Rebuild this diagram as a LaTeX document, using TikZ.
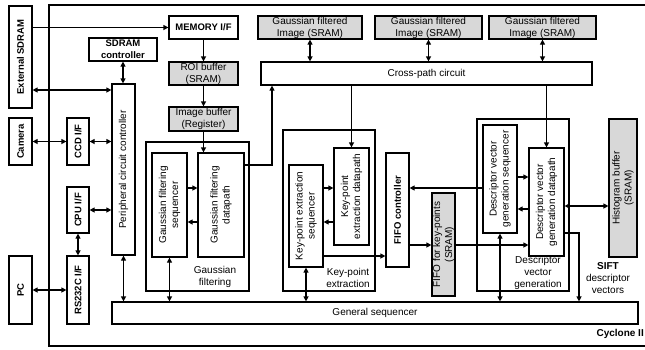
\documentclass[tikz,border=0pt]{standalone}
\usepackage{fontspec}
\setmainfont{Liberation Sans}
\usetikzlibrary{fit,arrows.meta}
\definecolor{boxgray}{RGB}{216,216,216}
\begin{document}
\begin{tikzpicture}[x=1pt,y=-1pt,
  bx/.style={draw, line width=1.2pt, inner sep=0pt, fill=white},
  gbx/.style={bx, fill=boxgray},
  grp/.style={draw, line width=2.6pt, inner sep=0pt},
  txt/.style={font=\fontsize{10}{12}\selectfont, align=center, inner sep=0pt},
  txtb/.style={font=\fontsize{9.5}{12}\selectfont\bfseries, align=center, inner sep=0pt},
  vtxt/.style={txt, rotate=90},
  vtxtb/.style={txtb, rotate=90},
  con/.style={line width=1.2pt},
  arr/.style={con, -{Triangle[length=5pt,width=5pt]}},
  darr/.style={con, {Triangle[length=5pt,width=5pt]}-{Triangle[length=5pt,width=5pt]}}
]
\useasboundingbox (0,0) rectangle (645,349);
% Cyclone II boundary
\draw[line width=2.3pt] (645,5) -- (49,5) -- (49,346) -- (645,346);
\node[txtb, font=\fontsize{10}{12}\selectfont\bfseries, anchor=east] (cyc) at (644,334) {Cyclone II};

% outside devices
\node[bx, fit={(9,6) (32,108)}] (ext) {};
\node[vtxtb] (ext-t) at (ext.center) {External SDRAM};
\node[bx, fit={(9,118) (32,165)}] (cam) {};
\node[vtxtb] (cam-t) at (cam.center) {Camera};
\node[bx, fit={(9,256) (32,324)}] (pc) {};
\node[vtxtb] (pc-t) at (pc.center) {PC};

% interfaces
\node[bx, fit={(89,38) (157,61)}] (sdc) {};
\node[txtb] (sdc-t) at (sdc.center) {SDRAM\\controller};
\node[bx, fit={(67,118) (89,165)}] (ccd) {};
\node[vtxtb] (ccd-t) at (ccd.center) {CCD I/F};
\node[bx, fit={(67,187) (89,233)}] (cpu) {};
\node[vtxtb] (cpu-t) at (cpu.center) {CPU I/F};
\node[bx, fit={(67,256) (89,324)}] (rs) {};
\node[vtxtb] (rs-t) at (rs.center) {RS232C I/F};
\node[bx, fit={(112,84) (135,255)}] (per) {};
\node[vtxt] (per-t) at (per.center) {Peripheral circuit controller};
\node[bx, fit={(112,302) (638,324)}] (gen) {};
\node[txt] (gen-t) at (gen.center) {General sequencer};

% memory chain
\node[bx, fit={(169,16) (238,39)}] (mem) {};
\node[txtb] (mem-t) at (mem.center) {MEMORY I/F};
\node[gbx, fit={(169,62) (238,85)}] (roi) {};
\node[txt] (roi-t) at (roi.center) {ROI buffer\\(SRAM)};
\node[gbx, fit={(169,107) (238,131)}] (imb) {};
\node[txt] (imb-t) at (imb.center) {Image buffer\\(Register)};

% gaussian filtered images
\node[gbx, fit={(258,16) (362,39)}] (gf1) {};
\node[txt] (gf1-t) at (gf1.center) {Gaussian filtered\\Image (SRAM)};
\node[gbx, fit={(375,16) (482,39)}] (gf2) {};
\node[txt] (gf2-t) at (gf2.center) {Gaussian filtered\\Image (SRAM)};
\node[gbx, fit={(489,16) (596,39)}] (gf3) {};
\node[txt] (gf3-t) at (gf3.center) {Gaussian filtered\\Image (SRAM)};
\node[bx, fit={(261,62) (592,85)}] (cross) {};
\node[txt] (cross-t) at (cross.center) {Cross-path circuit};

% gaussian filtering group
\node[grp, fit={(146,142) (249,291)}] (gfo) {};
\node[bx, fit={(152,153) (187,257)}] (gfs) {};
\node[vtxt] (gfs-t) at (gfs.center) {Gaussian filtering\\sequencer};
\node[bx, fit={(198,153) (244,257)}] (gfd) {};
\node[vtxt] (gfd-t) at (gfd.center) {Gaussian filtering\\datapath};
\node[txt] (gfl) at (215,277) {Gaussian\\filtering};

% key-point extraction group
\node[grp, fit={(283,130) (375,291)}] (kpo) {};
\node[bx, fit={(289,165) (323,267)}] (kps) {};
\node[vtxt] (kps-t) at (kps.center) {Key-point extraction\\sequencer};
\node[bx, fit={(334,148) (369,245)}] (kpd) {};
\node[vtxt] (kpd-t) at (kpd.center) {Key-point\\extraction datapath};
\node[txt] (kpl) at (348,278) {Key-point\\extraction};

% FIFO
\node[bx, fit={(386,153) (409,267)}] (fifoc) {};
\node[vtxtb] (fifoc-t) at (fifoc.center) {FIFO controller};
\node[gbx, fit={(432,193) (455,296)}] (fifok) {};
\node[vtxt] (fifok-t) at (fifok.center) {FIFO for key-points\\(SRAM)};

% descriptor vector generation group
\node[grp, fit={(477,119) (569,291)}] (dvo) {};
\node[bx, fit={(483,125) (517,233)}] (dvs) {};
\node[vtxt] (dvs-t) at (dvs.center) {Descriptor vector\\generation sequencer};
\node[bx, fit={(529,148) (564,256)}] (dvd) {};
\node[vtxt] (dvd-t) at (dvd.center) {Descriptor vector\\generation datapath};
\node[txt] (dvl) at (538,273) {Descriptor\\vector\\generation};

\node[gbx, fit={(609,119) (637,257)}] (hist) {};
\node[vtxt] (hist-t) at (hist.center) {Histogram buffer\\(SRAM)};
\node[txt] (sift) at (608,278) {\textbf{SIFT}\\descriptor\\vectors};

% connectors: left side
\draw[arr] (ext.east |- mem.west) -- (mem.west);
\draw[darr] (ext.east |- 0,90) -- (per.west |- 0,90);
\draw[darr] (sdc.south) -- (sdc.south |- per.north);
\draw[darr] (cam.east) -- (ccd.west);
\draw[darr] (ccd.east) -- (ccd.east -| per.west);
\draw[darr] (cpu.east) -- (cpu.east -| per.west);
\draw[darr] (cpu.south) -- (rs.north);
\draw[darr] (pc.east) -- (rs.west);
\draw[darr] (per.south) -- (per.south |- gen.north);

% memory chain
\draw[arr] (mem.south) -- (roi.north);
\draw[arr] (roi.south) -- (imb.north);
\draw[arr] (imb.south) -- (imb.south |- gfd.north);

% gaussian filtering
\draw[arr] (gfs.east |- 0,188) -- (gfd.west |- 0,188);
\draw[arr] (gfd.west |- 0,222) -- (gfs.east |- 0,222);
\draw[darr] (gfs.south) -- (gfs.south |- gen.north);
\draw[arr] (gfd.east |- 0,165) -| (272,0 |- cross.south);

% gaussian filtered images
\draw[darr] (gf1.south) -- (gf1.south |- cross.north);
\draw[darr] (gf2.south) -- (gf2.south |- cross.north);
\draw[darr] (gf3.south) -- (gf3.south |- cross.north);

% cross-path outputs
\draw[arr] (kpd.north |- cross.south) -- (kpd.north);
\draw[arr] (dvd.north |- cross.south) -- (dvd.north);

% key-point extraction
\draw[arr] (kps.east |- 0,188) -- (kpd.west |- 0,188);
\draw[arr] (kpd.west |- 0,222) -- (kps.east |- 0,222);
\draw[darr] (kps.south) -- (kps.south |- gen.north);
\draw[arr] (kps.east |- 0,256) -- (fifoc.west |- 0,256);

% FIFO
\draw[arr] (fifoc.east |- 0,245) -- (fifok.west |- 0,245);
\draw[arr] (fifok.east |- 0,245) -- (dvd.west |- 0,245);
\draw[arr] (dvs.west |- 0,188) -- (fifoc.east |- 0,188);

% descriptor vector generation
\draw[arr] (dvs.east |- 0,177) -- (dvd.west |- 0,177);
\draw[arr] (dvd.west |- 0,209) -- (dvs.east |- 0,209);
\draw[darr] (dvs.south) -- (dvs.south |- gen.north);
\draw[arr] (dvd.east |- 0,233) -| (579,0 |- gen.north);
\draw[darr] (dvd.east |- 0,206) -- (hist.west |- 0,206);
\end{tikzpicture}
\end{document}
